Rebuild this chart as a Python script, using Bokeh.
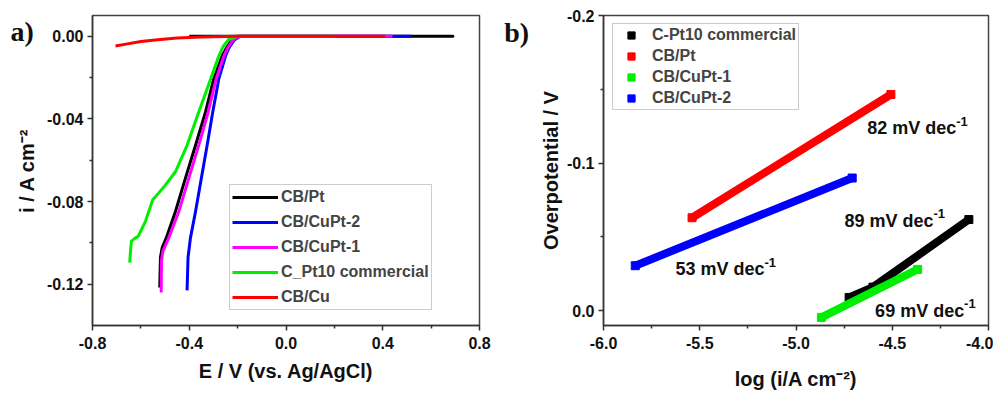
from bokeh.plotting import figure
from bokeh.layouts import row
from bokeh.models import Range1d, FixedTicker, PrintfTickFormatter, Legend, LegendItem, Label
from bokeh.embed import file_html
from bokeh.resources import INLINE

# ---------------- panel a) : LSV curves ----------------
E_CBPt = [-0.40, 0.69, -0.20, -0.225, -0.245, -0.264, -0.299, -0.333, -0.374, -0.416, -0.457, -0.495, -0.512, -0.519, -0.522]
i_CBPt = [0.0, 0.0, 0.0, -0.002, -0.0055, -0.0096, -0.0208, -0.0368, -0.0528, -0.0688, -0.0848, -0.0976, -0.1024, -0.107, -0.1216]

E_CuPt2 = [0.52, -0.19, -0.215, -0.235, -0.250, -0.278, -0.303, -0.326, -0.350, -0.374, -0.395, -0.405, -0.409]
i_CuPt2 = [0.0, 0.0, -0.002, -0.0055, -0.0096, -0.0208, -0.0368, -0.0528, -0.0688, -0.0848, -0.0976, -0.107, -0.123]

E_CuPt1 = [0.44, -0.195, -0.22, -0.24, -0.257, -0.289, -0.322, -0.361, -0.402, -0.443, -0.485, -0.509, -0.515, -0.516]
i_CuPt1 = [0.0, 0.0, -0.002, -0.0055, -0.0096, -0.0208, -0.0368, -0.0528, -0.0688, -0.0848, -0.0976, -0.104, -0.1088, -0.124]

E_CPt10 = [0.20, -0.20, -0.237, -0.26, -0.278, -0.312, -0.361, -0.409, -0.457, -0.498, -0.533, -0.551, -0.581, -0.611, -0.622, -0.639, -0.643, -0.646]
i_CPt10 = [0.0, 0.0, -0.0016, -0.005, -0.0096, -0.0208, -0.0368, -0.0528, -0.0656, -0.072, -0.0768, -0.0792, -0.0896, -0.0968, -0.0976, -0.0992, -0.104, -0.1096]

E_CBCu = [-0.705, -0.65, -0.60, -0.52, -0.45, -0.35, -0.20, 0.0, 0.41]
i_CBCu = [-0.0048, -0.0036, -0.0026, -0.0016, -0.0009, -0.0004, -0.0001, 0.0, 0.0]

lsv_names = ["CB/Pt", "CB/CuPt-2", "CB/CuPt-1", "C_Pt10 commercial", "CB/Cu"]
lsv_colors = ["#000000", "#0000ff", "#ff00ff", "#00ee00", "#ff0000"]
lsv_E = [E_CBPt, E_CuPt2, E_CuPt1, E_CPt10, E_CBCu]
lsv_i = [i_CBPt, i_CuPt2, i_CuPt1, i_CPt10, i_CBCu]

a_xticks = [-0.8, -0.4, 0.0, 0.4, 0.8]
a_xminor = [-0.6, -0.2, 0.2, 0.6]
a_yticks = [-0.12, -0.08, -0.04, 0.0]
a_yminor = [-0.10, -0.06, -0.02]

# ---------------- panel b) : Tafel plots ----------------
logi_CPt10 = [-4.724, -4.60, -4.102]
eta_CPt10 = [-0.009, -0.016, -0.0618]
logi_CBPt = [-5.54, -4.507]
eta_CBPt = [-0.063, -0.1465]
logi_CuPt1 = [-4.868, -4.368]
eta_CuPt1 = [0.0045, -0.028]
logi_CuPt2 = [-5.835, -4.708]
eta_CuPt2 = [-0.0305, -0.0899]

tafel_names = ["C-Pt10 commercial", "CB/Pt", "CB/CuPt-1", "CB/CuPt-2"]
tafel_colors = ["#000000", "#ff0000", "#00ee00", "#0000ff"]
tafel_x = [logi_CPt10, logi_CBPt, logi_CuPt1, logi_CuPt2]
tafel_y = [eta_CPt10, eta_CBPt, eta_CuPt1, eta_CuPt2]

slope_texts = ["82 mV dec", "89 mV dec", "53 mV dec", "69 mV dec"]
slope_sup = "-1"
slope_x = [-4.63, -4.748, -5.626, -4.589]
slope_y = [-0.1236, -0.0609, -0.028, 0.0]

b_xticks = [-6.0, -5.5, -5.0, -4.5, -4.0]
b_xminor = [-5.75, -5.25, -4.75, -4.25]
b_yticks = [-0.2, -0.1, 0.0]
b_yminor = [-0.15, -0.05]

panel_tags = ["a)", "b)"]
# tag positions expressed in panel a) data coordinates (outside its frame)
tag_x = [-1.139, 0.9025]
tag_y = [0.0023, 0.0018]

FONT = "Liberation Sans"


def style_axes(p, xt, xm, yt, ym, xfmt, yfmt):
    p.xgrid.visible = False
    p.ygrid.visible = False
    p.outline_line_color = "#444444"
    p.outline_line_width = 1.5
    p.background_fill_color = "white"
    p.border_fill_color = "white"
    p.xaxis.ticker = FixedTicker(ticks=xt, minor_ticks=xm)
    p.yaxis.ticker = FixedTicker(ticks=yt, minor_ticks=ym)
    p.xaxis.formatter = PrintfTickFormatter(format=xfmt)
    p.yaxis.formatter = PrintfTickFormatter(format=yfmt)
    for ax in (p.xaxis, p.yaxis):
        ax.axis_line_color = "#333333"
        ax.axis_line_width = 1.5
        ax.major_tick_line_color = "#333333"
        ax.minor_tick_line_color = "#333333"
        ax.major_tick_line_width = 1.5
        ax.minor_tick_line_width = 1.5
        ax.major_tick_out = 5
        ax.major_tick_in = 0
        ax.minor_tick_out = 3
        ax.minor_tick_in = 0
        ax.major_label_text_font = FONT
        ax.major_label_text_font_style = "bold"
        ax.major_label_text_font_size = "16px"
        ax.major_label_text_color = "#111111"
        ax.axis_label_text_font = FONT
        ax.axis_label_text_font_style = "bold"
        ax.axis_label_text_font_size = "20px"
        ax.axis_label_text_color = "#111111"
    p.xaxis.major_label_standoff = 6
    p.yaxis.major_label_standoff = 4


H = 392
W1 = 536

# ---- figure a
p1 = figure(width=W1, height=H, x_range=Range1d(-0.8, 0.8), y_range=Range1d(-0.14, 0.01),
            output_backend="svg", toolbar_location=None,
            min_border_left=92, min_border_right=W1 - 479, min_border_top=15, min_border_bottom=H - 328)
style_axes(p1, a_xticks, a_xminor, a_yticks, a_yminor, "%.1f", "%.2f")
p1.xaxis.axis_label = "E / V (vs. Ag/AgCl)"
p1.yaxis.axis_label = "i / A cm\u207b\u00b2"
p1.xaxis.axis_label_standoff = 8
p1.yaxis.axis_label_standoff = 6

items_a = []
for name, col, ex, iy in zip(lsv_names, lsv_colors, lsv_E, lsv_i):
    r = p1.line(ex, iy, line_color=col, line_width=3, line_join="round")
    items_a.append(LegendItem(label=name, renderers=[r]))

leg_a = Legend(items=items_a, location=(137, 15), glyph_width=46, glyph_height=20,
               label_height=20, spacing=5, padding=2, margin=0, label_standoff=3,
               label_text_font=FONT, label_text_font_style="bold", label_text_font_size="16px",
               border_line_color="#999999", border_line_width=1, background_fill_alpha=1.0)
p1.add_layout(leg_a)

# panel tags live in a side panel (so they are not clipped to the frame)
for t, x, y in zip(panel_tags, tag_x, tag_y):
    p1.add_layout(Label(x=x, y=y, text=t, text_font="Liberation Serif", text_font_style="bold",
                        text_font_size="28px", text_baseline="middle", text_align="left",
                        text_color="#111111"), "right")

# ---- figure b
p2 = figure(width=993 - W1, height=H, x_range=Range1d(-6.0, -4.0), y_range=Range1d(0.01, -0.2),
            output_backend="svg", toolbar_location=None,
            min_border_left=601 - W1, min_border_right=5, min_border_top=15, min_border_bottom=H - 328)
style_axes(p2, b_xticks, b_xminor, b_yticks, b_yminor, "%.1f", "%.1f")
p2.xaxis.axis_label = "log (i/A cm\u207b\u00b2)"
p2.yaxis.axis_label = "Overpotential / V"
p2.xaxis.axis_label_standoff = 16
p2.yaxis.axis_label_standoff = 2

items_b = []
for name, col, lx, ey in zip(tafel_names, tafel_colors, tafel_x, tafel_y):
    p2.line(lx, ey, line_color=col, line_width=8, line_cap="butt")
    s = p2.scatter(lx, ey, marker="square", size=8, fill_color=col, line_color=col)
    items_b.append(LegendItem(label=name, renderers=[s]))

leg_b = Legend(items=items_b, location=(9, 215), glyph_width=32, glyph_height=18,
               label_height=18, spacing=3, padding=2, margin=0, label_standoff=5,
               label_text_font=FONT, label_text_font_style="bold", label_text_font_size="16px",
               border_line_color="#999999", border_line_width=1, background_fill_alpha=1.0)
p2.add_layout(leg_b)

for t, x, y in zip(slope_texts, slope_x, slope_y):
    p2.add_layout(Label(x=x, y=y, text=t, text_font=FONT, text_font_style="bold",
                        text_font_size="18px", text_baseline="middle", text_align="left",
                        text_color="#111111"))
    p2.add_layout(Label(x=x, y=y, x_offset=89, y_offset=7, text=slope_sup, text_font=FONT,
                        text_font_style="bold", text_font_size="13px", text_baseline="middle",
                        text_align="left", text_color="#111111"))

layout = row(p1, p2)
open("out.html", "w").write(file_html(layout, INLINE))
